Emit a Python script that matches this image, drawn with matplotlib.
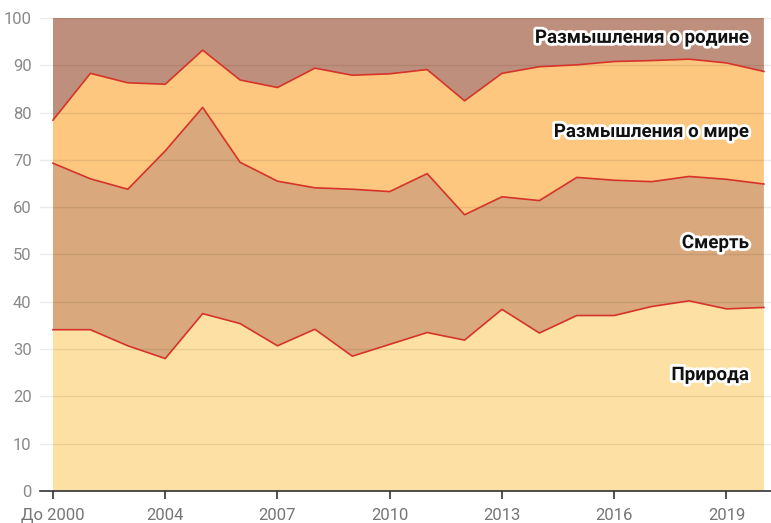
"""Stacked shares of poem themes by year."""

import numpy
from matplotlib import pyplot
from matplotlib import patheffects

# Categories (years) and layer values, percent.
years = ['До 2000'] + [str(y) for y in range(2002, 2021)]
nature = [34.1, 34.1, 30.7, 28.0, 37.5, 35.4, 30.7, 34.2, 28.5, 31.0,
          33.5, 31.9, 38.4, 33.4, 37.1, 37.1, 39.0, 40.2, 38.5, 38.8]
death = [35.2, 31.9, 33.1, 43.9, 43.6, 34.1, 34.8, 29.9, 35.3, 32.3,
         33.6, 26.5, 23.8, 28.0, 29.2, 28.6, 26.4, 26.3, 27.4, 26.1]
world = [9.1, 22.3, 22.5, 14.1, 12.1, 17.4, 19.8, 25.3, 24.1, 24.9,
         22.0, 24.1, 26.1, 28.3, 23.8, 25.1, 25.6, 24.8, 24.6, 23.8]
homeland = [21.6, 11.7, 13.7, 14.0, 6.8, 13.1, 14.7, 10.6, 12.1, 11.8,
            10.9, 17.5, 11.7, 10.3, 9.9, 9.2, 9.0, 8.7, 9.5, 11.3]
series_names = ['Природа', 'Смерть', 'Размышления о мире', 'Размышления о родине']
label_y = [24.5, 52.4, 75.9, 95.8]
colors = ['#fde0a3', '#d9a87c', '#fdc77f', '#bf8f7d']

pyplot.rcParams['font.family'] = ['Roboto', 'DejaVu Sans']

fig = pyplot.figure(figsize=(7.71, 5.23), dpi=100)
ax = fig.add_axes([40 / 771, 32 / 523, 731 / 771, 473 / 523])

x = numpy.arange(len(years))
layers = [nature, death, world, homeland]
ax.stackplot(x, *layers, colors=colors, linewidth=0, zorder=1)

# Boundary lines between layers.
cum = numpy.cumsum(numpy.array(layers), axis=0)
for row in cum[:-1]:
    ax.plot(x, row, color='#d6332a', lw=1.2, zorder=3)

ax.set_xlim(-0.347, 19.19)
ax.set_ylim(0, 100)
ax.set_yticks(range(0, 101, 10))
ax.set_xticks(x[::3])
ax.set_xticklabels(years[::3])
ax.grid(axis='y', color='black', alpha=0.08, lw=1)
ax.set_axisbelow(False)
for line in ax.get_ygridlines():
    line.set_zorder(2)

for side in ('top', 'right', 'left'):
    ax.spines[side].set_visible(False)
ax.spines['bottom'].set_color('#333333')
ax.spines['bottom'].set_linewidth(1.2)
ax.spines['bottom'].set_zorder(4)
ax.tick_params(axis='y', length=0, pad=6, labelsize=12, labelcolor='#8a8a8a')
ax.tick_params(axis='x', length=6, width=1.2, color='#333333', pad=6,
               labelsize=12, labelcolor='#757575')

halo = [patheffects.withStroke(linewidth=4, foreground='white')]
for name, yl in zip(series_names, label_y):
    ax.text(18.6, yl, name, ha='right', va='center', fontsize=13.5,
            fontweight='bold', color='#111111', path_effects=halo, zorder=5)

fig.savefig('out.png', dpi=100)
